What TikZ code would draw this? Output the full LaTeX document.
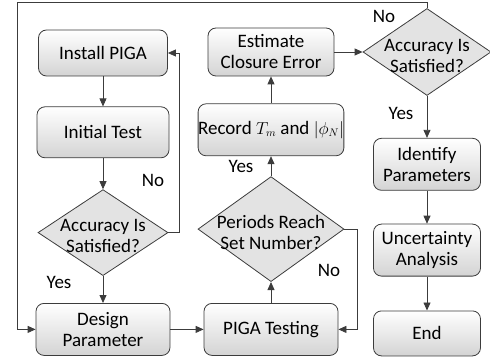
\documentclass[tikz,border=0pt]{standalone}
\usepackage{fontspec}
\setmainfont{Carlito}
\usetikzlibrary{positioning}
\usetikzlibrary{shapes.geometric}
\usetikzlibrary{arrows.meta}

\definecolor{linegray}{HTML}{3C3C3C}
\newcommand{\smallmath}[1]{{\fontsize{16}{21}\selectfont$#1$}}

\begin{document}
\begin{tikzpicture}[x=1pt, y=-1pt,
    font=\fontsize{19}{21}\selectfont,
    procbox/.style={draw=linegray, line width=0.8pt, rounded corners=8pt, top color=white,
      bottom color=black!17, align=center, inner sep=2pt},
    decision/.style={diamond, draw=linegray, line width=0.8pt, fill=black!11, inner sep=0pt},
    flow/.style={draw=linegray, line width=0.8pt, -{Triangle[length=8pt, width=7pt]}}
  ]
  \useasboundingbox (0,0) rectangle (490,358);

  % first column
  \node[procbox, minimum width=129pt, minimum height=46pt] (install) at (103,53) {Install PIGA};
  \node[procbox, minimum width=132pt, minimum height=51pt, below=30pt of install] (initial) {Initial Test};
  \node[decision, minimum width=130pt, minimum height=86pt, below=31pt of initial] (acc1) {};
  \node[align=center] (acc1txt) at ([yshift=-3pt]acc1.center) {Accuracy Is\\Satisfied?};
  \node[procbox, minimum width=134pt, minimum height=52pt, below=27pt of acc1] (design) {Design\\Parameter};

  % second column
  \node[procbox, minimum width=126pt, minimum height=48pt] (estimate) at (271,52) {Estimate\\Closure Error};
  \node[procbox, minimum width=143pt, minimum height=52pt, inner sep=0pt, below=27pt of estimate]
    (record) {Record \smallmath{T_m} and \smallmath{|\phi_N|}};
  \node[decision, minimum width=146pt, minimum height=105pt, below=20pt of record] (periods) {};
  \node[align=center] (periodstxt) at ([yshift=-3pt]periods.center) {Periods Reach\\Set Number?};
  \node[procbox, minimum width=134pt, minimum height=52pt, below=21pt of periods] (testing) {PIGA Testing};

  % third column
  \node[decision, minimum width=128pt, minimum height=87pt] (acc3) at (427,52) {};
  \node[align=center] (acc3txt) at ([yshift=-4pt]acc3.center) {Accuracy Is\\Satisfied?};
  \node[procbox, minimum width=107pt, minimum height=52pt, below=42pt of acc3] (identify) {Identify\\Parameters};
  \node[procbox, minimum width=107pt, minimum height=52pt, below=33pt of identify] (uncert) {Uncertainty\\Analysis};
  \node[procbox, minimum width=107pt, minimum height=45pt, below=34pt of uncert] (end) {End};

  \coordinate (topright) at (427,2);
  \coordinate (topleft) at (17,2);

  % branch labels
  \node (no1) at (153,180) {No};
  \node (yes1) at (59,282) {Yes};
  \node (yes2) at (241,166) {Yes};
  \node (no2) at (329,270) {No};
  \node (yes3) at (401,113) {Yes};
  \node (no3) at (384,16) {No};

  \draw[flow] (install) -- (initial);
  \draw[flow] (initial) -- (acc1);
  \draw[flow] (acc1) -- (design);
  \draw[flow] (acc1.east) -- ++(11,0) |- (install.east);
  \draw[flow] (design) -- (testing);
  \draw[flow] (testing) -- (periods);
  \draw[flow] (periods.east) -- ++(13,0) |- (testing.east);
  \draw[flow] (periods) -- (record);
  \draw[flow] (record) -- (estimate);
  \draw[flow] (estimate) -- (acc3);
  \draw[flow] (acc3) -- (identify);
  \draw[flow] (acc3.north) -- (topright) -- (topleft) |- (design.west);
  \draw[flow] (identify) -- (uncert);
  \draw[flow] (uncert) -- (end);
\end{tikzpicture}
\end{document}
